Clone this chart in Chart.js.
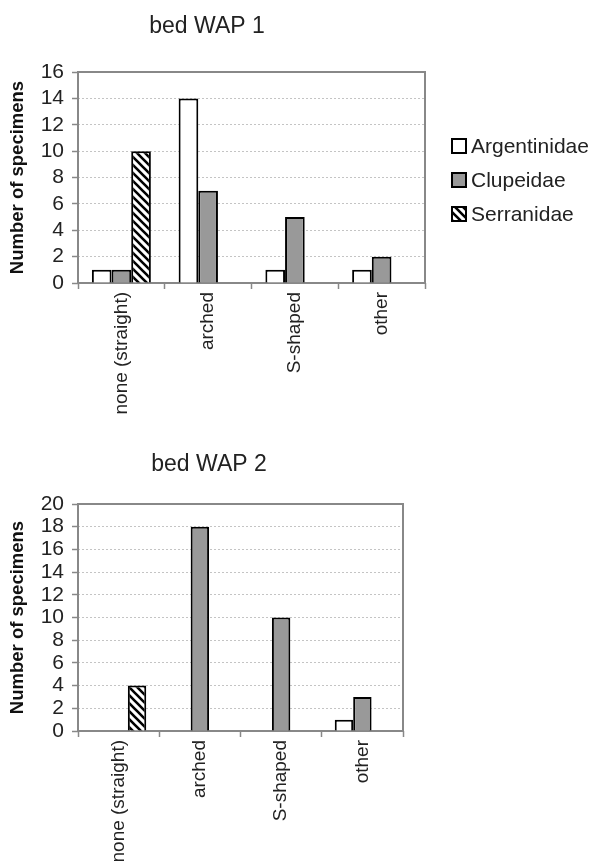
<!DOCTYPE html>
<html>
<head>
<meta charset="utf-8">
<script src="https://cdn.jsdelivr.net/npm/chart.js@4.4.0/dist/chart.umd.min.js"></script>
<style>
  html, body { margin: 0; padding: 0; background: #fff; overflow: hidden; }
  #wap1 { position: absolute; left: 0; top: 0; }
  #wap2 { position: absolute; left: 0; top: 430px; }
</style>
</head>
<body>
<canvas id="wap1" width="595" height="430"></canvas>
<canvas id="wap2" width="595" height="450"></canvas>
<script>
const categories = ['none (straight)', 'arched', 'S-shaped', 'other'];
const families = ['Argentinidae', 'Clupeidae', 'Serranidae'];

// bed WAP 1
const wap1Argentinidae = [1, 14, 1, 1];
const wap1Clupeidae = [1, 7, 5, 2];
const wap1Serranidae = [10, 0, 0, 0];
const wap1Ticks = [0, 2, 4, 6, 8, 10, 12, 14, 16];

// bed WAP 2
const wap2Argentinidae = [0, 0, 0, 1];
const wap2Clupeidae = [0, 18, 10, 3];
const wap2Serranidae = [4, 0, 0, 0];
const wap2Ticks = [0, 2, 4, 6, 8, 10, 12, 14, 16, 18, 20];

const FONT = 'Liberation Sans, Arial, sans-serif';

function makeHatch() {
  const p = document.createElement('canvas');
  p.width = 8; p.height = 8;
  const g = p.getContext('2d');
  g.fillStyle = '#fff';
  g.fillRect(0, 0, 8, 8);
  g.strokeStyle = '#000';
  g.lineWidth = 2.6;
  g.beginPath();
  g.moveTo(-2, -2); g.lineTo(10, 10);
  g.moveTo(-2, 6); g.lineTo(2, 10);
  g.moveTo(6, -2); g.lineTo(10, 2);
  g.stroke();
  return g.createPattern(p, 'repeat');
}
const hatch = makeHatch();
const fills = ['#ffffff', '#999999', hatch];

// plot frame drawn under the bars
const framePlugin = {
  id: 'frame',
  beforeDatasetsDraw(chart) {
    const { ctx, chartArea: a } = chart;
    ctx.save();
    ctx.strokeStyle = '#888';
    ctx.lineWidth = 2;
    ctx.strokeRect(a.left, a.top, a.right - a.left, a.bottom - a.top);
    ctx.restore();
  }
};

const titlePlugin = {
  id: 'fixedTitle',
  afterDraw(chart, args, opts) {
    const ctx = chart.ctx;
    ctx.save();
    ctx.font = '23px ' + FONT;
    ctx.fillStyle = '#222';
    ctx.textAlign = 'center';
    ctx.textBaseline = 'middle';
    ctx.fillText(opts.text, opts.x, opts.y);
    ctx.restore();
  }
};

const legendPlugin = {
  id: 'sideLegend',
  afterDraw(chart, args, opts) {
    if (!opts.show) return;
    const ctx = chart.ctx;
    ctx.save();
    ctx.font = '21px ' + FONT;
    ctx.textBaseline = 'middle';
    chart.data.datasets.forEach((ds, i) => {
      const y = opts.y + i * opts.gap;
      ctx.fillStyle = ds.backgroundColor;
      ctx.fillRect(opts.x, y - opts.box / 2, opts.box, opts.box);
      ctx.strokeStyle = '#000';
      ctx.lineWidth = 2;
      ctx.strokeRect(opts.x, y - opts.box / 2, opts.box, opts.box);
      ctx.fillStyle = '#222';
      ctx.fillText(ds.label, opts.x + opts.box + 5, y + 1);
    });
    ctx.restore();
  }
};

function buildChart(id, series, ticks, title, padding, showLegend) {
  return new Chart(document.getElementById(id), {
    type: 'bar',
    data: {
      labels: categories,
      datasets: families.map((f, i) => ({
        label: f,
        data: series[i],
        backgroundColor: fills[i],
        borderColor: '#000',
        borderWidth: 2,
        borderSkipped: 'start',
        categoryPercentage: 0.68,
        barPercentage: 1
      }))
    },
    options: {
      responsive: false,
      animation: false,
      layout: { padding: padding },
      scales: {
        x: {
          ticks: {
            minRotation: 90, maxRotation: 90, autoSkip: false,
            font: { family: FONT, size: 19 }, color: '#222', padding: 3
          },
          grid: {
            offset: true, drawOnChartArea: false, drawTicks: true,
            tickLength: 6, tickColor: '#888', tickWidth: 1.5
          },
          border: { display: false },
          afterFit: s => { s.height = 140; }
        },
        y: {
          min: ticks[0],
          max: ticks[ticks.length - 1],
          afterBuildTicks: s => { s.ticks = ticks.map(v => ({ value: v })); },
          ticks: { autoSkip: false, font: { family: FONT, size: 21 }, color: '#222', padding: 8 },
          grid: { color: '#c4c4c4', lineWidth: 1, tickLength: 6, tickColor: '#888', tickWidth: 1.5 },
          border: { display: false, dash: [2, 2] },
          title: {
            display: true, text: 'Number of specimens', color: '#111',
            font: { family: FONT, size: 18.5, weight: 'bold' },
            padding: { top: 7, bottom: 0 }
          },
          afterFit: s => { s.width = 78; }
        }
      },
      plugins: {
        legend: { display: false },
        tooltip: { enabled: false },
        fixedTitle: title,
        sideLegend: showLegend
      }
    },
    plugins: [framePlugin, titlePlugin, legendPlugin]
  });
}

buildChart('wap1', [wap1Argentinidae, wap1Clupeidae, wap1Serranidae], wap1Ticks,
  { text: 'bed WAP 1', x: 207, y: 27 },
  { left: 0, right: 170, top: 72, bottom: 7 },
  { show: true, x: 452, y: 146, gap: 34, box: 14 });

buildChart('wap2', [wap2Argentinidae, wap2Clupeidae, wap2Serranidae], wap2Ticks,
  { text: 'bed WAP 2', x: 209, y: 35 },
  { left: 0, right: 192, top: 74, bottom: 9 },
  { show: false });
</script>
</body>
</html>
